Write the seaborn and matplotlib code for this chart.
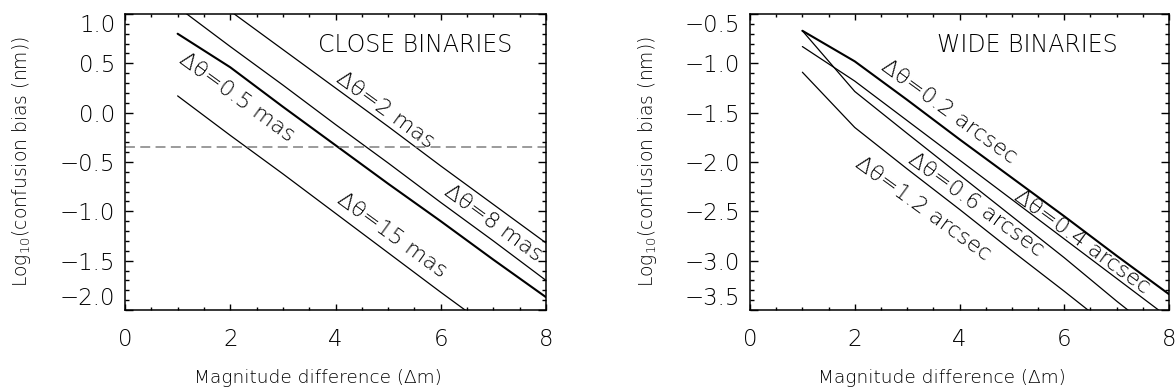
import numpy as np
import pandas as pd
import matplotlib
matplotlib.use("Agg")
import matplotlib.pyplot as plt
import seaborn as sns
from matplotlib.ticker import MultipleLocator

# ---------------- data ----------------
mag = [1, 2, 3, 4, 5, 6, 7, 8]

close_05mas = [0.80, 0.46, 0.06, -0.33, -0.72, -1.10, -1.49, -1.87]
close_2mas = [1.42, 1.03, 0.64, 0.25, -0.14, -0.54, -0.93, -1.32]
close_8mas = [1.07, 0.67, 0.28, -0.12, -0.51, -0.91, -1.30, -1.70]
close_15mas = [0.17, -0.23, -0.62, -1.02, -1.42, -1.82, -2.21, -2.61]
close_threshold = -0.35

wide_02 = [-0.67, -0.98, -1.37, -1.77, -2.16, -2.55, -2.95, -3.34]
wide_04 = [-0.83, -1.18, -1.58, -1.98, -2.38, -2.78, -3.18, -3.58]
wide_06 = [-0.67, -1.285, -1.71, -2.13, -2.55, -2.97, -3.41, -3.83]
wide_12 = [-1.09, -1.65, -2.07, -2.48, -2.90, -3.31, -3.73, -4.15]

x_label = "Magnitude difference (Δm)"
y_label = r"Log$_{10}$(confusion bias (nm))"
close_title = "CLOSE BINARIES"
wide_title = "WIDE BINARIES"

# ---------------- style ----------------
sns.set_style("ticks")
plt.rcParams["font.family"] = ["DejaVu Sans"]
plt.rcParams["font.weight"] = "light"
plt.rcParams["axes.labelweight"] = "light"
plt.rcParams["mathtext.fontset"] = "custom"
plt.rcParams["mathtext.rm"] = "DejaVu Sans:light"
plt.rcParams["mathtext.it"] = "DejaVu Sans:light"
plt.rcParams["mathtext.bf"] = "DejaVu Sans:bold"
plt.rcParams["text.color"] = "black"
plt.rcParams["axes.labelcolor"] = "black"
plt.rcParams["xtick.color"] = "black"
plt.rcParams["ytick.color"] = "black"
plt.rcParams["axes.linewidth"] = 1.1

fig = plt.figure(figsize=(11.76, 3.92), dpi=100)
W, H = 1176.0, 392.0
axL = fig.add_axes([125 / W, (H - 310) / H, 421 / W, 296 / H])
axR = fig.add_axes([750 / W, (H - 310) / H, 419 / W, 296 / H])


def style_axes(ax, ylim):
    ax.set_xlim(0, 8)
    ax.set_ylim(*ylim)
    ax.xaxis.set_major_locator(MultipleLocator(2))
    ax.xaxis.set_minor_locator(MultipleLocator(0.5))
    ax.yaxis.set_major_locator(MultipleLocator(0.5))
    ax.yaxis.set_minor_locator(MultipleLocator(0.1))
    ax.tick_params(axis="both", which="both", direction="in",
                   top=True, right=True, color="black", width=1.0)
    ax.tick_params(axis="x", which="major", length=4.5, pad=13, labelsize=16.5)
    ax.tick_params(axis="x", which="minor", length=2.3)
    ax.tick_params(axis="y", which="major", length=6, pad=7, labelsize=16.5)
    ax.tick_params(axis="y", which="minor", length=3)
    for s in ax.spines.values():
        s.set_color("black")
        s.set_linewidth(1.1)
    ax.set_xlabel(x_label, fontsize=13.3, fontweight="light")
    ax.set_ylabel(y_label, fontsize=13.5, fontweight="light")
    ax.xaxis.set_label_coords(0.5 - 18 / 421, -59 / 296)
    ax.yaxis.set_label_coords(-103 / 421, 0.5)
    ax.yaxis.label.set_va("center")


def line(ax, y, lw):
    sns.lineplot(x=mag, y=y, ax=ax, color="black", linewidth=lw,
                 estimator=None, sort=False, legend=False)


# ---------------- left: close binaries ----------------
line(axL, close_2mas, 0.9)
line(axL, close_8mas, 0.9)
line(axL, close_05mas, 1.5)
line(axL, close_15mas, 0.9)
axL.axhline(close_threshold, color="#808080", linewidth=1.1,
            linestyle=(0, (6.5, 3.5)))
style_axes(axL, (-2.0, 1.0))

txt_kw = dict(fontsize=16, rotation=-36, rotation_mode="anchor",
              ha="center", va="center", color="black", fontweight="light")
axL.text(2.13, 0.16, "Δθ=0.5 mas", **txt_kw)
axL.text(4.94, 0.03, "Δθ=2 mas", **txt_kw)
axL.text(7.0, -1.12, "Δθ=8 mas", **txt_kw)
axL.text(5.08, -1.24, "Δθ=15 mas", **txt_kw)
axL.text(0.689, 0.895, close_title, transform=axL.transAxes, fontsize=17,
         ha="center", va="center", fontweight="light")

# ---------------- right: wide binaries ----------------
line(axR, wide_02, 1.5)
line(axR, wide_04, 0.9)
line(axR, wide_06, 0.9)
line(axR, wide_12, 0.9)
style_axes(axR, (-3.5, -0.5))

axR.text(3.81, -1.49, "Δθ=0.2 arcsec", **txt_kw)
axR.text(6.34, -2.81, "Δθ=0.4 arcsec", **txt_kw)
axR.text(4.32, -2.43, "Δθ=0.6 arcsec", **txt_kw)
axR.text(3.30, -2.47, "Δθ=1.2 arcsec", **txt_kw)
axR.text(0.661, 0.895, wide_title, transform=axR.transAxes, fontsize=17,
         ha="center", va="center", fontweight="light")

# shift extreme y tick labels inward like the original
fig.canvas.draw()
for ax in (axL, axR):
    labs = ax.get_yticklabels()
    lo, hi = ax.get_ylim()
    for lab, loc in zip(labs, ax.get_yticks()):
        if abs(loc - hi) < 1e-6:
            lab.set_va("top")
        elif abs(loc - lo) < 1e-6:
            lab.set_va("bottom")

fig.savefig("out.png", dpi=100)
